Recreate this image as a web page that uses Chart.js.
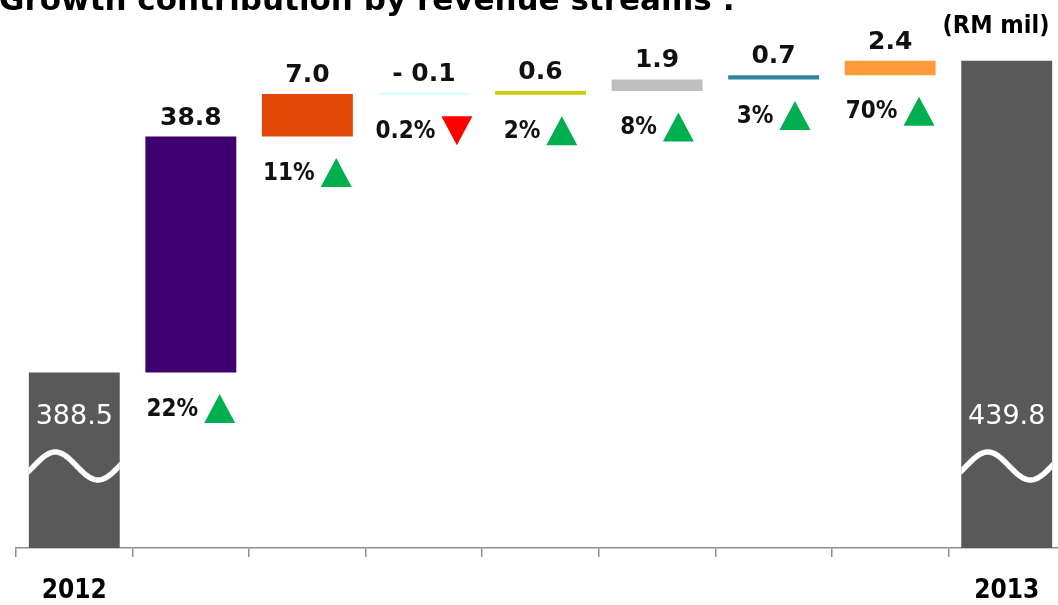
<!DOCTYPE html>
<html>
<head>
<meta charset="utf-8">
<script src="https://cdn.jsdelivr.net/npm/chart.js@4.4.1/dist/chart.umd.min.js"></script>
<style>
  html, body { margin: 0; padding: 0; background: #fff; overflow: hidden; width: 1058px; height: 605px; }
  #wrap { position: relative; width: 1068px; height: 605px; }
  canvas { display: block; }
</style>
</head>
<body>
<div id="wrap"><canvas id="chart" width="1068" height="605"></canvas></div>
<script>
// Revenue bridge 2012 -> 2013 (RM mil)
const categories = ['2012', '', '', '', '', '', '', '', '2013'];
const openingRevenue = 388.5;
const closingRevenue = 439.8;
const streamChanges = [38.8, 7.0, -0.1, 0.6, 1.9, 0.7, 2.4];
const streamGrowth = ['22%', '11%', '0.2%', '2%', '8%', '3%', '70%'];
const streamTrend = ['up', 'up', 'down', 'up', 'up', 'up', 'up'];
const streamColors = ['#3d006e', '#e34705', '#ccffff', '#cccc00', '#bfbfbf', '#31849b', '#fd9a3a'];
const totalColor = '#595959';

// Broken value axis: only the top slice of the totals is shown
const AXIS_FLOOR = 359.6;
const AXIS_CEIL = 443.2;

const FONT = '"DejaVu Sans Condensed", "DejaVu Sans", sans-serif';
const FONT_WIDE = '"DejaVu Sans", sans-serif';

// Floating bars: totals rest on the axis floor, each stream steps from the running sum
const floating = [[AXIS_FLOOR, openingRevenue]];
let running = openingRevenue;
streamChanges.forEach(v => { floating.push([running, running + v]); running += v; });
floating.push([AXIS_FLOOR, closingRevenue]);

const barColors = [totalColor, ...streamColors, totalColor];

function fmtChange(v) {
  return v < 0 ? '- ' + Math.abs(v).toFixed(1) : v.toFixed(1);
}

const annotate = {
  id: 'annotate',
  afterDatasetsDraw(chart) {
    const ctx = chart.ctx;
    const area = chart.chartArea;
    const meta = chart.getDatasetMeta(0);
    ctx.save();
    meta.data.forEach((bar, i) => {
      const top = Math.min(bar.y, bar.base);
      const bottom = Math.max(bar.y, bar.base);
      const half = bar.width / 2;
      if (i === 0 || i === categories.length - 1) {
        const value = i === 0 ? openingRevenue : closingRevenue;
        // axis-break wave across the total bar
        ctx.save();
        ctx.beginPath();
        ctx.rect(bar.x - half, top, bar.width, bottom - top);
        ctx.clip();
        ctx.strokeStyle = '#ffffff';
        ctx.lineWidth = 5.5;
        ctx.lineJoin = 'round';
        ctx.beginPath();
        const cy = area.bottom - 82;
        const x0 = bar.x - half - 2, w = bar.width + 4;
        for (let k = 0; k <= 60; k++) {
          const t = k / 60;
          const y = cy - 14 * Math.sin(2 * Math.PI * (t - 0.075) / 0.9);
          if (k === 0) ctx.moveTo(x0 + t * w, y); else ctx.lineTo(x0 + t * w, y);
        }
        ctx.stroke();
        ctx.restore();
        ctx.fillStyle = '#ffffff';
        ctx.font = '27px ' + FONT_WIDE;
        ctx.textAlign = 'center';
        ctx.textBaseline = 'middle';
        ctx.fillText(value.toFixed(1), bar.x, area.bottom - 131);
      } else {
        const j = i - 1;
        // change value above the step
        ctx.fillStyle = '#111111';
        ctx.font = 'bold 25px ' + FONT_WIDE;
        ctx.textAlign = 'center';
        ctx.textBaseline = 'alphabetic';
        ctx.fillText(fmtChange(streamChanges[j]), bar.x, top - 12);
        // growth rate with arrow below the step
        ctx.font = 'bold 24px ' + FONT;
        const txt = streamGrowth[j];
        const tw = ctx.measureText(txt).width;
        const triW = 31, triH = 29, gap = 6;
        const groupW = tw + gap + triW;
        const sx = bar.x - groupW / 2;
        const cy = bottom + 36;
        ctx.textAlign = 'left';
        ctx.textBaseline = 'middle';
        ctx.fillText(txt, sx, cy + 1);
        const tx = sx + tw + gap;
        ctx.beginPath();
        if (streamTrend[j] === 'up') {
          ctx.fillStyle = '#00b050';
          ctx.moveTo(tx, cy + triH / 2);
          ctx.lineTo(tx + triW / 2, cy - triH / 2);
          ctx.lineTo(tx + triW, cy + triH / 2);
        } else {
          ctx.fillStyle = '#ff0000';
          ctx.moveTo(tx, cy - triH / 2);
          ctx.lineTo(tx + triW, cy - triH / 2);
          ctx.lineTo(tx + triW / 2, cy + triH / 2);
        }
        ctx.closePath();
        ctx.fill();
      }
    });
    ctx.restore();
  },
  afterDraw(chart) {
    const ctx = chart.ctx;
    ctx.save();
    ctx.fillStyle = '#000000';
    ctx.textAlign = 'left';
    ctx.textBaseline = 'alphabetic';
    ctx.font = 'bold 31px ' + FONT_WIDE;
    ctx.fillText('Growth contribution by revenue streams :', -1, 10);
    ctx.textAlign = 'center';
    ctx.font = 'bold 25px ' + FONT;
    ctx.fillText('(RM mil)', 996, 33);
    ctx.restore();
  }
};

new Chart(document.getElementById('chart'), {
  type: 'bar',
  data: {
    labels: categories,
    datasets: [{
      data: floating,
      backgroundColor: barColors,
      borderWidth: 0,
      borderSkipped: false,
      minBarLength: 2,
      barPercentage: 0.78,
      categoryPercentage: 1.0
    }]
  },
  options: {
    responsive: false,
    devicePixelRatio: 1,
    animation: false,
    layout: { padding: { top: 40, left: 16, right: 3, bottom: 0 } },
    plugins: {
      legend: { display: false },
      tooltip: { enabled: false },
      title: { display: false }
    },
    scales: {
      x: {
        offset: true,
        grid: {
          display: true,
          offset: true,
          drawOnChartArea: false,
          drawTicks: true,
          tickLength: 9,
          color: '#8f8f8f',
          lineWidth: 1.5
        },
        border: { display: true, color: '#8f8f8f', width: 1.5 },
        ticks: {
          color: '#000000',
          autoSkip: false,
          maxRotation: 0,
          padding: 19,
          font: { family: FONT, size: 26, weight: 'bold' }
        },
        afterFit(scale) { scale.height = 57; }
      },
      y: {
        display: false,
        min: AXIS_FLOOR,
        max: AXIS_CEIL
      }
    }
  },
  plugins: [annotate]
});
</script>
</body>
</html>
